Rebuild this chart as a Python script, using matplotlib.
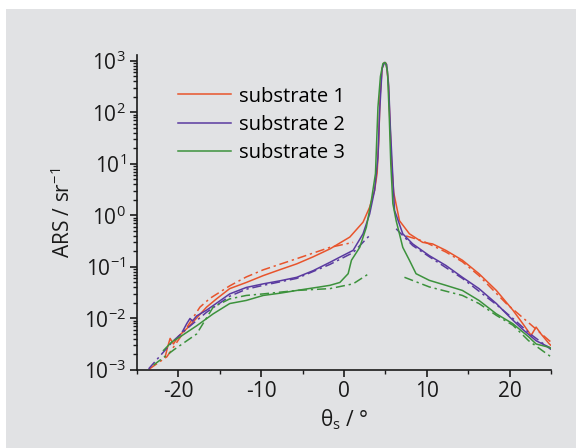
"""
ARS scatter curves for three substrates: measured (solid) and model (dash-dot).
"""
import numpy as np
import matplotlib
matplotlib.use('Agg')
import matplotlib.pyplot as plt
from matplotlib.patches import Rectangle
from matplotlib.ticker import LogLocator, NullFormatter, MultipleLocator

plt.rcParams['font.family'] = ['Open Sans', 'DejaVu Sans']
plt.rcParams['mathtext.fontset'] = 'custom'
plt.rcParams['mathtext.rm'] = 'Open Sans'
plt.rcParams['mathtext.it'] = 'Open Sans:italic'
plt.rcParams['axes.unicode_minus'] = False

# --- measured curves (scatter angle in deg, ARS in 1/sr) ---
s1_theta = [-21.6, -21.3, -21.0, -20.6, -20.0, -18.8, -16.6, -15.4, -13.8, -11.8, -9.75, -7.7,
            -5.7, -3.7, -1.7, 0.7, 2.3, 3.1, 3.7, 4.0, 4.2, 4.35, 4.6, 4.85, 5.1, 5.35, 5.55,
            5.75, 6.0, 6.7, 7.9, 9.5, 10.7, 12.3, 14.3, 16.3, 18.4, 20.4, 21.6, 22.6, 23.2,
            23.8, 24.8, 25.0]
s1_ars = [1.8e-3, 2.8e-3, 4.1e-3, 3.2e-3, 4.5e-3, 6.8e-3, 0.0166, 0.024, 0.038, 0.050, 0.068, 0.089,
          0.115, 0.158, 0.224, 0.38, 0.74, 1.45, 3.1, 6.6, 29, 200, 710, 930, 890, 400, 63,
          10, 2.8, 0.79, 0.44, 0.30, 0.28, 0.21, 0.135, 0.074, 0.035, 0.0145, 7.9e-3, 4.7e-3, 6.8e-3,
          5.0e-3, 3.2e-3, 3.0e-3]

s2_theta = [-19.5, -19.0, -18.6, -18.3, -17.8, -16.6, -15.8, -13.8, -11.8, -9.75, -7.7, -5.7,
            -3.7, -1.7, -0.5, 1.1, 2.3, 3.1, 3.7, 4.1, 4.3, 4.6, 4.9, 5.15, 5.4, 5.6, 5.85, 6.1,
            7.1, 8.3, 10.3, 12.3, 14.3, 16.3, 18.4, 20.0, 21.5, 23.2, 24.8, 25.0]
s2_ars = [5.6e-3, 7.9e-3, 0.010, 8.9e-3, 0.0112, 0.0145, 0.0178, 0.030, 0.040, 0.047, 0.054, 0.063,
          0.085, 0.123, 0.155, 0.21, 0.44, 1.07, 3.1, 13.5, 100, 710, 930, 850, 320, 50, 7.9, 1.26,
          0.44, 0.28, 0.166, 0.107, 0.063, 0.038, 0.0195, 0.0107, 6.3e-3, 3.7e-3, 2.75e-3, 2.6e-3]

s3_theta = [-21.8, -20.8, -19.8, -17.8, -15.8, -13.8, -11.8, -9.75, -7.7, -5.7, -2.9, -1.7, -0.5,
            0.5, 0.9, 1.9, 2.7, 3.3, 3.8, 4.1, 4.4, 4.7, 5.0, 5.25, 5.45, 5.65, 5.9,
            6.3, 7.1, 7.9, 8.7, 10.3, 12.3, 14.3, 16.3, 18.4, 20.4, 22.3, 23.2, 24.8, 25.0]
s3_ars = [2.4e-3, 3.5e-3, 4.4e-3, 7.2e-3, 0.0123, 0.0195, 0.0224, 0.028, 0.031, 0.035, 0.041, 0.044, 0.050,
          0.074, 0.135, 0.24, 0.59, 1.95, 6.5, 126, 500, 890, 930, 630, 100, 10, 1.7,
          0.79, 0.24, 0.135, 0.074, 0.055, 0.044, 0.035, 0.0224, 0.0123, 7.9e-3, 4.4e-3, 3.2e-3, 2.75e-3, 2.6e-3]

# --- model curves (dash-dot), left and right of the specular peak ---
m1_theta_l = [-23.5, -21.4, -19.5, -17.4, -16.2, -13.8, -11.8, -9.75, -5.7, -1.7, 1.1]
m1_ars_l = [1.05e-3, 1.8e-3, 5.0e-3, 0.0166, 0.0245, 0.043, 0.064, 0.088, 0.145, 0.24, 0.30]
m1_theta_r = [7.5, 9.5, 12.3, 14.3, 16.3, 19.6, 22.0, 24.8, 25.0]
m1_ars_r = [0.40, 0.32, 0.195, 0.126, 0.068, 0.0195, 9.1e-3, 3.7e-3, 3.5e-3]

m2_theta_l = [-23.6, -20.6, -19.0, -16.6, -13.8, -11.8, -9.75, -5.7, -1.7, 1.1, 3.1]
m2_ars_l = [1.05e-3, 3.7e-3, 6.3e-3, 0.0132, 0.027, 0.037, 0.044, 0.060, 0.112, 0.19, 0.41]
m2_theta_r = [6.3, 8.3, 10.3, 14.3, 18.4, 20.4, 22.5, 25.0]
m2_ars_r = [0.55, 0.26, 0.158, 0.060, 0.0186, 0.010, 5.0e-3, 2.5e-3]

m3_theta_l = [-23.0, -20.5, -17.8, -15.8, -13.8, -11.8, -9.75, -5.7, -1.7, 1.1, 3.0]
m3_ars_l = [1.25e-3, 2.5e-3, 5.0e-3, 0.0166, 0.024, 0.028, 0.030, 0.035, 0.038, 0.047, 0.074]
m3_theta_r = [7.3, 10.3, 14.3, 16.3, 18.4, 20.4, 22.3, 25.0]
m3_ars_r = [0.063, 0.041, 0.028, 0.0195, 0.0115, 7.4e-3, 3.7e-3, 1.8e-3]

labels = ['substrate 1', 'substrate 2', 'substrate 3']
colors = ['#e8542c', '#5a3aa0', '#3c923c']

fig = plt.figure(figsize=(5.76, 4.48), dpi=100, facecolor='white')
fig.patches.append(Rectangle((6 / 576, 0), 1, 1 - 9 / 448, transform=fig.transFigure,
                             facecolor='#e1e2e4', edgecolor='none', zorder=-10))
ax = fig.add_axes([137 / 576, 1 - 370 / 448, 414 / 576, 315 / 448])
ax.set_facecolor('none')

dashdot = (0, (6, 2.5, 1.5, 2.5))
measured = [(s1_theta, s1_ars), (s2_theta, s2_ars), (s3_theta, s3_ars)]
model = [(m1_theta_l, m1_ars_l, m1_theta_r, m1_ars_r),
         (m2_theta_l, m2_ars_l, m2_theta_r, m2_ars_r),
         (m3_theta_l, m3_ars_l, m3_theta_r, m3_ars_r)]

for (th, ars), (tl, al, tr, ar), c, lab in zip(measured, model, colors, labels):
    ax.plot(tl, al, color=c, lw=1.1, ls=dashdot)
    ax.plot(tr, ar, color=c, lw=1.1, ls=dashdot)
    ax.plot(th, ars, color=c, lw=1.1, label=lab)

ax.set_yscale('log')
ax.set_xlim(-25, 25)
ax.set_ylim(1e-3, 1.3e3)
ax.xaxis.set_major_locator(MultipleLocator(10))
ax.xaxis.set_minor_locator(MultipleLocator(5))
ax.yaxis.set_major_locator(LogLocator(base=10, numticks=12))
ax.yaxis.set_minor_locator(LogLocator(base=10, subs=np.arange(2, 10), numticks=12))
ax.yaxis.set_minor_formatter(NullFormatter())

for side in ('top', 'right'):
    ax.spines[side].set_visible(False)
for side in ('left', 'bottom'):
    ax.spines[side].set_linewidth(1.2)
    ax.spines[side].set_color('#1a1a1a')

ax.tick_params(which='major', direction='out', length=5, width=1.2, labelsize=15,
               color='#1a1a1a', labelcolor='#1a1a1a', pad=3)
ax.tick_params(which='minor', direction='out', length=3, width=1.0, color='#1a1a1a')

ax.set_xlabel(r'θ$_\mathrm{s}$ / °', fontsize=15, color='#1a1a1a', labelpad=4)
ax.set_ylabel(r'ARS / sr$^{-1}$', fontsize=15, color='#1a1a1a', labelpad=6)

ax.legend(loc='upper left', bbox_to_anchor=(0.1, 0.9), frameon=False, fontsize=14.5,
          handlelength=2.6, handletextpad=0.4, labelspacing=0.4, borderaxespad=0, borderpad=0)

fig.savefig('out.png', dpi=100, facecolor=fig.get_facecolor())
